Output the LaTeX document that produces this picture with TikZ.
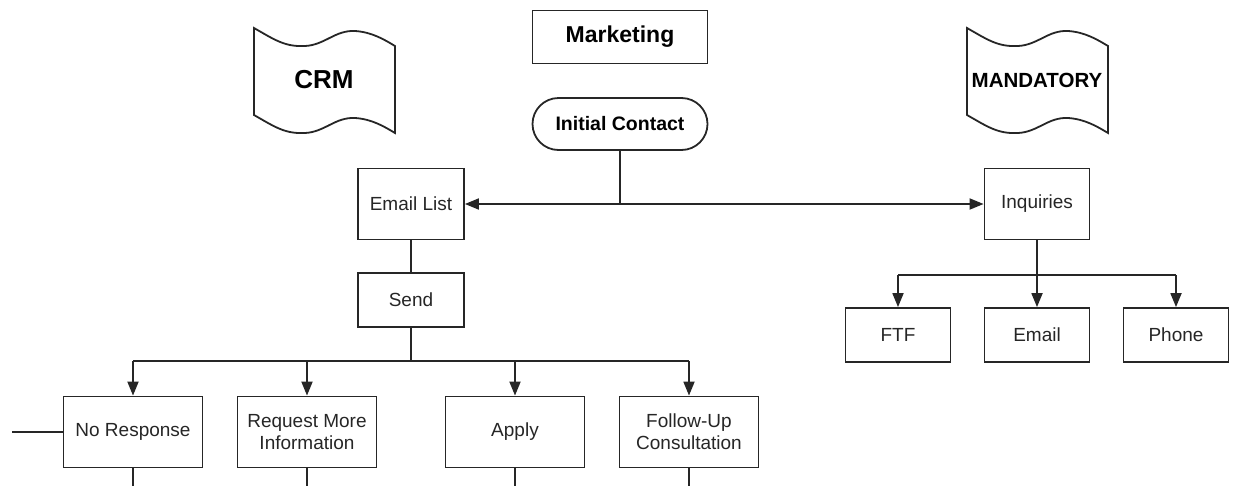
\documentclass[tikz,border=0pt]{standalone}
\usepackage{fontspec}
\setmainfont{Liberation Sans}
\usetikzlibrary{arrows.meta}
\begin{document}
\begin{tikzpicture}[x=1pt,y=-1pt,
  line width=1.8pt, draw=black!85,
  every node/.style={text=black!85},
  box/.style={draw, rectangle, inner sep=0pt, align=center,
    font=\fontsize{19}{22}\selectfont},
  bigbox/.style={box, minimum width=139pt, minimum height=71pt},
  midbox/.style={box, minimum width=106pt, minimum height=71pt},
  smallbox/.style={box, minimum width=106pt, minimum height=54pt},
  title/.style={draw, rectangle, inner sep=0pt, minimum width=175pt,
    minimum height=53pt, font=\fontsize{23}{26}\selectfont\bfseries},
  stadium/.style={draw, rectangle, rounded corners=26pt, inner sep=0pt,
    minimum width=175pt, minimum height=52pt,
    font=\fontsize{19.5}{22}\selectfont\bfseries},
  arr/.style={-{Triangle[length=14pt,width=11pt]}},
  flag/.pic={\draw[line width=1.8pt]
    (0,0) .. controls (21,12) and (31,19) .. (51,18)
    .. controls (71,17) and (81,2) .. (101,3)
    .. controls (118,4) and (131,12) .. (141,18)
    -- (141,105)
    .. controls (131,99) and (118,91) .. (101,90)
    .. controls (81,89) and (71,104) .. (51,105)
    .. controls (31,106) and (21,99) .. (0,87) -- cycle;}
  ]
\useasboundingbox (0,0) rectangle (1248,485);

% flags
\pic at (254,28) {flag};
\pic at (967,28) {flag};
\node[font=\fontsize{26}{28}\selectfont\bfseries, text=black] (crm) at (324,80) {CRM};
\node[font=\fontsize{20.5}{24}\selectfont\bfseries, text=black] (mand) at (1037,80) {MANDATORY};

% top
\node[title, text=black] (mkt) at (620,37) {Marketing};
\node[stadium, text=black] (ic) at (620,124) {Initial Contact};

% left branch
\node[midbox] (el) at (411,204) {Email List};
\node[smallbox] (send) at (411,300) {Send};

% right branch
\node[box, minimum width=105pt, minimum height=71pt] (inq) at (1037,204) {Inquiries};
\node[box, minimum width=105pt, minimum height=54pt] (ftf) at (898,335) {FTF};
\node[box, minimum width=105pt, minimum height=54pt] (em) at (1037,335) {Email};
\node[box, minimum width=105pt, minimum height=54pt] (ph) at (1176,335) {Phone};

% bottom row
\node[bigbox] (nr) at (133,432) {No Response};
\node[bigbox] (rmi) at (307,432) {Request More\\Information};
\node[bigbox] (ap) at (515,432) {Apply};
\node[bigbox] (fu) at (689,432) {Follow-Up\\Consultation};

% coordinates
\coordinate (j1) at (620,204);
\coordinate (j2) at (411,361);
\coordinate (j3) at (1037,275);
\coordinate (lft) at (12,432);

% connectors
\draw (ic.south) -- (j1);
\draw[arr] (j1) -- (el.east);
\draw[arr] (j1) -- (inq.west);
\draw (el.south) -- (send.north);
\draw (send.south) -- (j2);
\draw (nr.north |- j2) -- (fu.north |- j2);
\draw[arr] (nr.north |- j2) -- (nr.north);
\draw[arr] (rmi.north |- j2) -- (rmi.north);
\draw[arr] (ap.north |- j2) -- (ap.north);
\draw[arr] (fu.north |- j2) -- (fu.north);
\draw[arr] (inq.south) -- (em.north);
\draw (ftf.north |- j3) -- (ph.north |- j3);
\draw[arr] (ftf.north |- j3) -- (ftf.north);
\draw[arr] (ph.north |- j3) -- (ph.north);
\draw (nr.west) -- (lft);

% lines leaving the bottom
\coordinate (b1) at (133,486);
\coordinate (b2) at (307,486);
\coordinate (b3) at (515,486);
\coordinate (b4) at (689,486);
\draw (nr.south) -- (b1);
\draw (rmi.south) -- (b2);
\draw (ap.south) -- (b3);
\draw (fu.south) -- (b4);
\end{tikzpicture}
\end{document}
